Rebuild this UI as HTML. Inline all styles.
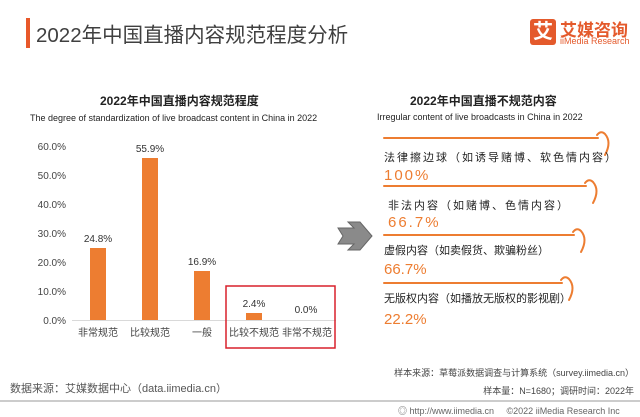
<!DOCTYPE html><html><head><meta charset="utf-8"><style>
body{margin:0;width:640px;height:416px;background:#fff;position:relative;overflow:hidden;font-family:"Liberation Sans","Noto Sans CJK SC",sans-serif;color:#333}
.a{position:absolute;white-space:nowrap}
</style></head><body>
<div class="a" style="left:26px;top:18px;width:4px;height:30px;background:#e8582a"></div>
<div class="a" style="left:36px;top:18px;font-size:20.5px;color:#404040">2022年中国直播内容规范程度分析</div>
<div class="a" style="left:530px;top:19px;width:26px;height:26px;background:#e45a2c;border-radius:3px;color:#fff;font-size:20px;font-weight:bold;text-align:center;line-height:26px">艾</div>
<div class="a" style="left:560px;top:16px;font-size:17px;color:#e45a2c;font-weight:bold">艾媒咨询</div>
<div class="a" style="left:560px;top:36px;font-size:9px;color:#e45a2c">iiMedia Research</div>
<div class="a" style="left:100px;top:92px;font-size:12px;font-weight:bold;color:#222">2022年中国直播内容规范程度</div>
<div class="a" style="left:30px;top:113px;font-size:9px;color:#222">The degree of standardization of live broadcast content in China in 2022</div>
<div class="a" style="left:410px;top:92px;font-size:12px;font-weight:bold;color:#222">2022年中国直播不规范内容</div>
<div class="a" style="left:377px;top:112px;font-size:9px;color:#222">Irregular content of live broadcasts in China in 2022</div>
<svg class="a" style="left:0;top:0" width="640" height="416">
<g font-size="10" fill="#444" font-family="Liberation Sans,sans-serif" text-anchor="end">
<text x="66" y="150">60.0%</text><text x="66" y="179">50.0%</text><text x="66" y="208">40.0%</text><text x="66" y="237">30.0%</text><text x="66" y="266">20.0%</text><text x="66" y="295">10.0%</text><text x="66" y="324">0.0%</text></g>
<line x1="72" y1="320.5" x2="336" y2="320.5" stroke="#d9d9d9"/>
<g fill="#ed7d31"><rect x="90" y="248" width="16" height="72"/><rect x="142" y="158" width="16" height="162"/><rect x="194" y="271" width="16" height="49"/><rect x="246" y="313" width="16" height="7"/></g>
<g font-size="10" fill="#333" text-anchor="middle" font-family="Liberation Sans,sans-serif"><text x="98" y="242">24.8%</text><text x="150" y="152">55.9%</text><text x="202" y="265">16.9%</text><text x="254" y="307">2.4%</text><text x="306" y="313">0.0%</text></g>
<g font-size="10" fill="#444" text-anchor="middle" font-family="Noto Sans CJK SC,sans-serif"><text x="98" y="336">非常规范</text><text x="150" y="336">比较规范</text><text x="202" y="336">一般</text><text x="254" y="336">比较不规范</text><text x="307" y="336">非常不规范</text></g>
<rect x="226" y="286" width="109" height="62" fill="none" stroke="#d9212c" stroke-width="1.5"/>
<polygon points="338,228 354,228 348,222 360,222 372,236 360,250 348,250 354,244 338,244 343,236" fill="#8a8a8a" stroke="#666"/>
<g stroke="#ed7d31" stroke-width="2" fill="none" stroke-linecap="round">
<path d="M384 138H598"/><path d="M597 135 Q601 130 605 134 Q612 142 605 155"/>
<path d="M384 186H586"/><path d="M585 183 Q589 178 593 182 Q600 190 593 203"/>
<path d="M384 235H574"/><path d="M573 232 Q577 227 581 231 Q588 239 581 252"/>
<path d="M384 283H562"/><path d="M561 280 Q565 275 569 279 Q576 287 569 300"/>
</g>
<line x1="0" y1="401" x2="640" y2="401" stroke="#999"/>
</svg>
<div class="a" style="left:384px;top:149px;font-size:11px;letter-spacing:2px;color:#222">法律擦边球（如诱导赌博、软色情内容）</div>
<div class="a" style="left:384px;top:167px;font-size:15px;letter-spacing:2px;color:#ed7d31">100%</div>
<div class="a" style="left:388px;top:197px;font-size:11px;letter-spacing:2px;color:#222">非法内容（如赌博、色情内容）</div>
<div class="a" style="left:388px;top:214px;font-size:15px;letter-spacing:2px;color:#ed7d31">66.7%</div>
<div class="a" style="left:384px;top:242px;font-size:11px;color:#222">虚假内容（如卖假货、欺骗粉丝）</div>
<div class="a" style="left:384px;top:261px;font-size:15px;color:#ed7d31">66.7%</div>
<div class="a" style="left:384px;top:290px;font-size:11px;color:#222">无版权内容（如播放无版权的影视剧）</div>
<div class="a" style="left:384px;top:311px;font-size:15px;color:#ed7d31">22.2%</div>
<div class="a" style="left:10px;top:380px;font-size:11px;color:#555">数据来源：艾媒数据中心（data.iimedia.cn）</div>
<div class="a" style="right:6px;top:366px;font-size:9px;color:#444">样本来源：草莓派数据调查与计算系统（survey.iimedia.cn）</div>
<div class="a" style="right:6px;top:384px;font-size:9px;color:#444">样本量：N=1680；调研时间：2022年</div>
<div class="a" style="left:398px;top:404px;font-size:9px;color:#666">◎ http://www.iimedia.cn&nbsp;&nbsp;&nbsp;&nbsp;&nbsp;©2022 iiMedia Research Inc</div>
</body></html>
